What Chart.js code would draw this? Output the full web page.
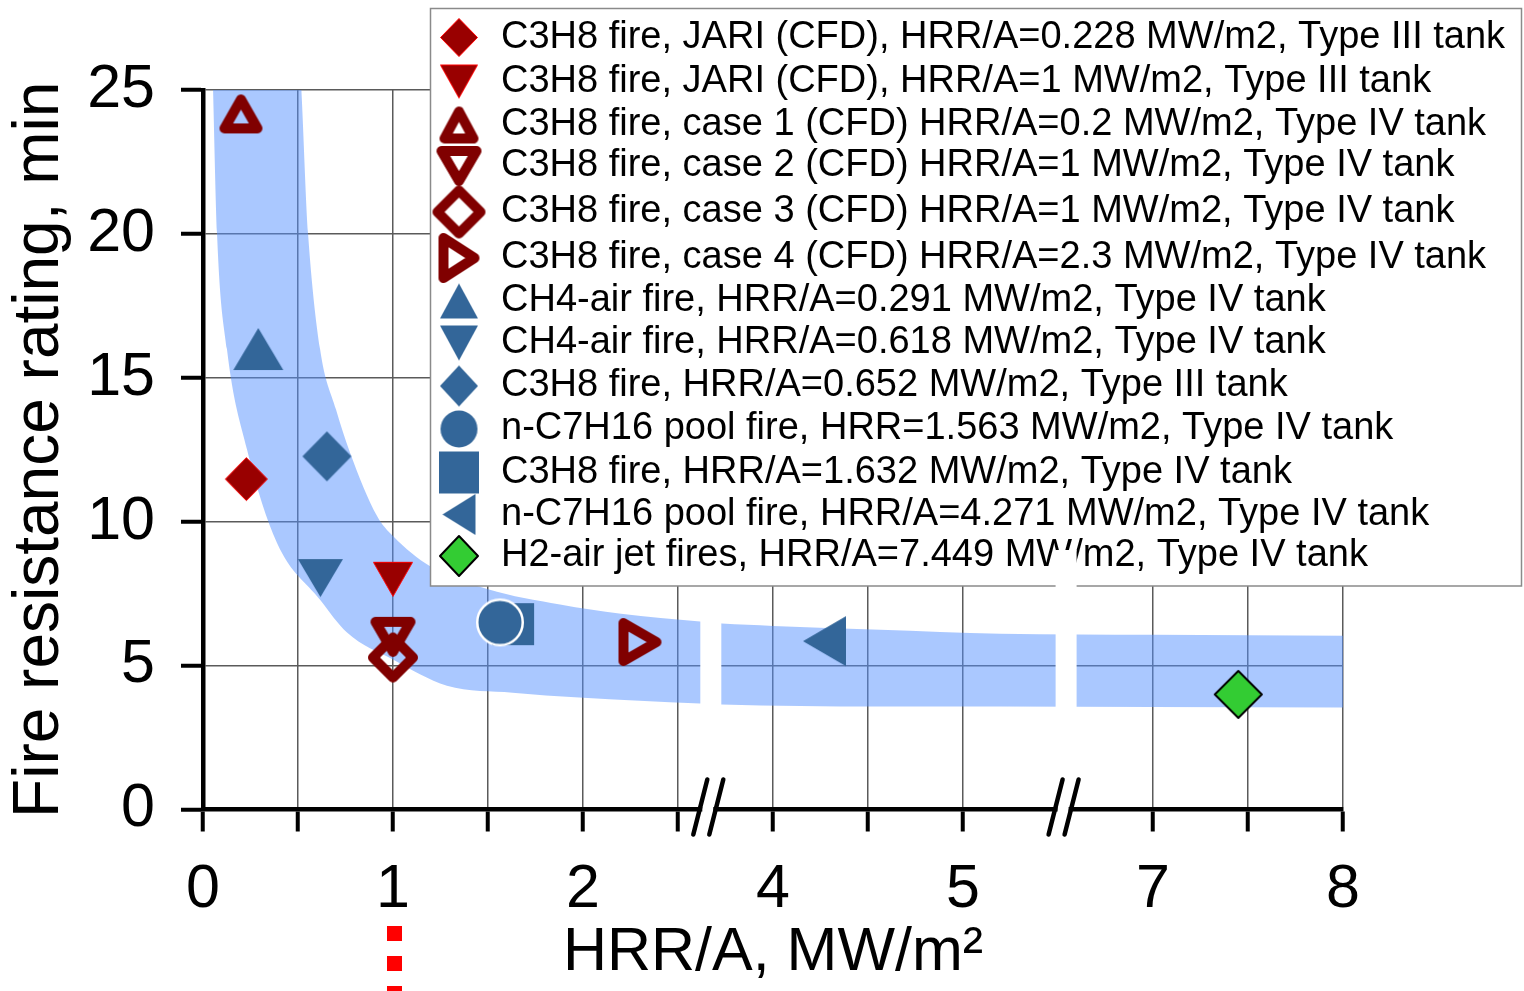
<!DOCTYPE html>
<html>
<head>
<meta charset="utf-8">
<title>Fire resistance rating vs HRR/A</title>
<script src="https://cdn.jsdelivr.net/npm/chart.js@4.4.1/dist/chart.umd.min.js"></script>
<style>
  html, body { margin: 0; padding: 0; background: #fff; }
  canvas { display: block; }
</style>
</head>
<body>
<canvas id="chart" width="1524" height="991"></canvas>
<script>
// one marker per test series
const seriesLabels = [
  'C3H8 fire, JARI (CFD), HRR/A=0.228 MW/m2, Type III tank',
  'C3H8 fire, JARI (CFD), HRR/A=1 MW/m2, Type III tank',
  'C3H8 fire, case 1 (CFD) HRR/A=0.2 MW/m2, Type IV tank',
  'C3H8 fire, case 2 (CFD) HRR/A=1 MW/m2, Type IV tank',
  'C3H8 fire, case 3 (CFD) HRR/A=1 MW/m2, Type IV tank',
  'C3H8 fire, case 4 (CFD) HRR/A=2.3 MW/m2, Type IV tank',
  'CH4-air fire, HRR/A=0.291 MW/m2, Type IV tank',
  'CH4-air fire, HRR/A=0.618 MW/m2, Type IV tank',
  'C3H8 fire, HRR/A=0.652 MW/m2, Type III tank',
  'n-C7H16 pool fire, HRR=1.563 MW/m2, Type IV tank',
  'C3H8 fire, HRR/A=1.632 MW/m2, Type IV tank',
  'n-C7H16 pool fire, HRR/A=4.271 MW/m2, Type IV tank',
  'H2-air jet fires, HRR/A=7.449 MW/m2, Type IV tank',
];
const hrrA = [0.228, 1, 0.2, 1, 1, 2.3, 0.291, 0.618, 0.652, 1.563, 1.632, 4.271, 7.449];
const fireRating = [11.48, 8.0, 24.17, 6.0, 5.28, 5.82, 16.0, 8.04, 12.27, 6.5, 6.44, 5.85, 4.0];

// shaded band, upper and lower edge (the top of the band runs off the plot)
const bandUpperX = [0.048, 0.50, 0.553, 0.616, 0.70, 0.774, 0.916, 1.0, 1.195, 1.5, 1.879, 2.2, 2.616, 3.73, 4.0, 4.563, 5.195, 7.0, 8.03];
const bandUpperY = [26.3, 26.3, 20.0, 16.0, 13.9, 12.4, 10.2, 9.5, 8.45, 7.65, 7.12, 6.8, 6.53, 6.46, 6.38, 6.25, 6.11, 6.07, 6.04];
const bandLowerX = [0.048, 0.053, 0.074, 0.126, 0.232, 0.389, 0.616, 0.758, 1.0, 1.284, 1.63, 1.98, 2.616, 3.73, 4.563, 5.195, 7.0, 8.03];
const bandLowerY = [26.3, 25.0, 20.0, 16.0, 12.5, 9.27, 7.29, 6.15, 5.21, 4.30, 4.06, 3.89, 3.68, 3.65, 3.58, 3.58, 3.56, 3.54];

// x axis: tick values and the two cut-out ranges
const xTicks = [0, 0.5, 1, 1.5, 2, 2.5, 4, 4.5, 5, 7, 7.5, 8];
const xBreaks = [[2.67, 3.67], [5.54, 6.54]];
const yMax = 25;
const yStep = 5;

const FONT = "'Liberation Sans', Arial, sans-serif";

// HRR/A -> position on the compressed axis
function axisPos(v) {
  let u = v;
  xBreaks.forEach(([a, b]) => { if (v >= b) u -= (b - a); });
  return u;
}

// marker drawn into a small canvas, centred on its bounding box
function marker(shape, w, h, st) {
  const c = document.createElement('canvas');
  c.width = Math.round(w + 4);
  c.height = Math.round(h + 4);
  const g = c.getContext('2d');
  const lw = st.lineWidth || 0;
  const cx = c.width / 2;
  const cy = c.height / 2;
  const hw = (w - lw) / 2;
  const hh = (h - lw) / 2;
  g.beginPath();
  switch (shape) {
    case 'diamond':
      g.moveTo(cx, cy - hh); g.lineTo(cx + hw, cy); g.lineTo(cx, cy + hh); g.lineTo(cx - hw, cy);
      break;
    case 'up':
      g.moveTo(cx, cy - hh); g.lineTo(cx + hw, cy + hh); g.lineTo(cx - hw, cy + hh);
      break;
    case 'down':
      g.moveTo(cx - hw, cy - hh); g.lineTo(cx + hw, cy - hh); g.lineTo(cx, cy + hh);
      break;
    case 'right':
      g.moveTo(cx - hw, cy - hh); g.lineTo(cx + hw, cy); g.lineTo(cx - hw, cy + hh);
      break;
    case 'left':
      g.moveTo(cx + hw, cy - hh); g.lineTo(cx - hw, cy); g.lineTo(cx + hw, cy + hh);
      break;
    case 'square':
      g.rect(cx - hw, cy - hh, hw * 2, hh * 2);
      break;
    default:
      g.arc(cx, cy, hw, 0, Math.PI * 2);
  }
  g.closePath();
  if (st.fill) { g.fillStyle = st.fill; g.fill(); }
  if (lw) {
    g.lineWidth = lw;
    g.lineJoin = 'round';
    g.strokeStyle = st.stroke;
    g.stroke();
  }
  return c;
}

const redFill = { fill: '#990000', stroke: '#ff0000', lineWidth: 1 };
const redOpen = { stroke: '#800000', lineWidth: 10 };
const blue = { fill: '#336699' };
const blueRing = { fill: '#336699', stroke: '#ffffff', lineWidth: 2.5 };
const green = { fill: '#33cc33', stroke: '#000000', lineWidth: 2 };

// shape, style, plot size [w, h], legend size [w, h]
const markerSpec = [
  ['diamond', redFill, [43, 44], [38, 39]],
  ['down', redFill, [40, 35], [38, 34]],
  ['up', redOpen, [43, 39], [39, 37]],
  ['down', redOpen, [45, 40], [45, 40]],
  ['diamond', redOpen, [50, 50], [53, 53]],
  ['right', redOpen, [43, 48], [41, 50]],
  ['up', blue, [50, 42], [38, 35]],
  ['down', blue, [45, 38], [38, 35]],
  ['diamond', blue, [49, 50], [38, 41]],
  ['circle', blueRing, [48, 48], [37, 38]],
  ['square', blue, [42, 42], [40, 42]],
  ['left', blue, [43, 50], [33, 41]],
  ['diamond', green, [49, 49], [40, 42]],
];

const plotMarkers = markerSpec.map(([s, st, [w, h]]) => marker(s, w, h, st));
const legendMarkers = markerSpec.map(([s, st, , [w, h]]) =>
  marker(s, w, h, st === blueRing ? blue : st));

const datasets = seriesLabels.map((label, i) => ({
  label,
  data: [{ x: axisPos(hrrA[i]), y: fireRating[i] }],
  pointStyle: plotMarkers[i],
  pointRadius: 20,
  pointHoverRadius: 20,
  order: 0,
}));

const bandLine = {
  type: 'line',
  borderColor: 'transparent',
  borderWidth: 0,
  pointRadius: 0,
  cubicInterpolationMode: 'monotone',
  order: 1,
};

// upper edge, then the lower edge filled up to it
datasets.push({
  ...bandLine,
  label: 'band upper',
  data: bandUpperX.map((x, i) => ({ x: axisPos(x), y: bandUpperY[i] })),
  fill: false,
});
datasets.push({
  ...bandLine,
  label: 'band lower',
  data: bandLowerX.map((x, i) => ({ x: axisPos(x), y: bandLowerY[i] })),
  fill: '-1',
  backgroundColor: 'rgba(85, 145, 255, 0.5)',
});

const legendRows = [37.5, 81.5, 125, 166, 212, 258, 301, 343, 386, 429, 472.5, 514.5, 556];

const legendBox = {
  id: 'legendBox',
  afterDatasetsDraw(chart) {
    const { ctx } = chart;
    ctx.save();
    ctx.fillStyle = '#fff';
    ctx.fillRect(430, 8, 1092, 578);
    ctx.strokeStyle = '#8a8a8a';
    ctx.lineWidth = 1.5;
    ctx.strokeRect(430.5, 8.5, 1091, 577.5);
    ctx.font = `38px ${FONT}`;
    ctx.fillStyle = '#000';
    ctx.textBaseline = 'middle';
    seriesLabels.forEach((label, i) => {
      const m = legendMarkers[i];
      const y = legendRows[i];
      ctx.drawImage(m, 459 - m.width / 2, y - m.height / 2);
      ctx.fillText(label, 501, y);
    });
    ctx.restore();
  },
};

const axisBreaks = {
  id: 'axisBreaks',
  afterDraw(chart) {
    const { ctx, chartArea } = chart;
    const xs = chart.scales.x;
    const bottom = chartArea.bottom;
    const tops = [592, 550];
    ctx.save();
    xBreaks.forEach(([a], i) => {
      const px = xs.getPixelForValue(axisPos(a));
      ctx.fillStyle = '#fff';
      ctx.fillRect(px - 10, tops[i], 21, bottom - 5 - tops[i]);
      ctx.fillRect(px - 8, bottom - 4, 11, 9);
      ctx.strokeStyle = '#000';
      ctx.lineWidth = 4.5;
      ctx.lineCap = 'round';
      [-10, 6].forEach((dx) => {
        ctx.beginPath();
        ctx.moveTo(px + dx - 7, bottom + 25);
        ctx.lineTo(px + dx + 7, bottom - 30);
        ctx.stroke();
      });
    });
    // red dashed marker under x = 1
    const p1 = xs.getPixelForValue(axisPos(1)) + 1.5;
    ctx.strokeStyle = '#ff0000';
    ctx.lineWidth = 15;
    ctx.lineCap = 'butt';
    ctx.setLineDash([15, 15]);
    ctx.beginPath();
    ctx.moveTo(p1, 926);
    ctx.lineTo(p1, 1000);
    ctx.stroke();
    ctx.restore();
  },
};

const gridOpts = {
  color: '#5a5a5a',
  lineWidth: 1.5,
  tickLength: 22,
  tickColor: '#000',
  tickWidth: 4,
};

new Chart(document.getElementById('chart'), {
  type: 'scatter',
  data: { datasets },
  options: {
    responsive: false,
    devicePixelRatio: 1,
    animation: false,
    layout: { padding: { left: 0, top: 90, right: 181, bottom: 0 } },
    plugins: {
      legend: { display: false },
      tooltip: { enabled: false },
    },
    scales: {
      x: {
        type: 'linear',
        min: 0,
        max: axisPos(xTicks[xTicks.length - 1]),
        afterBuildTicks(axis) {
          axis.ticks = xTicks.map((v) => ({ value: axisPos(v) }));
        },
        afterFit(axis) { axis.height = 181.5; },
        grid: gridOpts,
        border: { color: '#000', width: 4.5 },
        ticks: {
          autoSkip: false,
          maxRotation: 0,
          padding: 22,
          color: '#000',
          font: { family: FONT, size: 61 },
          callback: (val, i) => (Number.isInteger(xTicks[i]) ? String(xTicks[i]) : ''),
        },
        title: {
          display: true,
          text: 'HRR/A, MW/m²',
          color: '#000',
          font: { family: FONT, size: 61 },
          padding: { top: 0, bottom: 1 },
        },
      },
      y: {
        type: 'linear',
        min: 0,
        max: yMax,
        afterFit(axis) { axis.width = 203; },
        grid: gridOpts,
        border: { color: '#000', width: 4.5 },
        ticks: {
          stepSize: yStep,
          padding: 26,
          color: '#000',
          font: { family: FONT, size: 61 },
        },
        title: {
          display: true,
          text: 'Fire resistance rating, min',
          color: '#000',
          font: { family: FONT, size: 64 },
          padding: { top: 2, bottom: 0 },
        },
      },
    },
  },
  plugins: [legendBox, axisBreaks],
});
</script>
</body>
</html>
